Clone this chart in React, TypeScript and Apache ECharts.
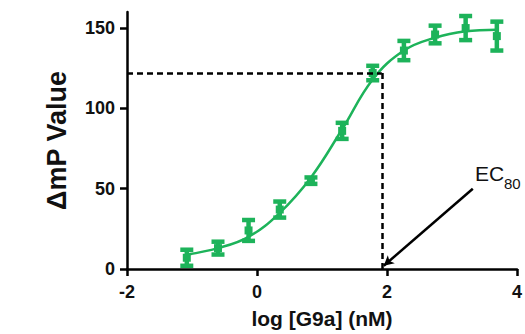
import React, { useEffect, useRef } from "react";
import * as echarts from "echarts";

// log [G9a] (nM)
const logConc = [-1.08, -0.6, -0.13, 0.35, 0.83, 1.31, 1.78, 2.26, 2.74, 3.21, 3.69];
// mean ΔmP values
const meanMP = [7, 13, 24, 37, 55, 86, 122, 136, 146, 150, 145];
// error (± SD)
const errMP = [5, 4, 6.5, 5, 2, 5, 4.5, 6, 5.5, 7.5, 9];
// fitted curve
const fitX = [-1.08, -0.6, -0.13, 0.35, 0.83, 1.31, 1.78, 2.26, 2.74, 3.21, 3.69];
const fitY = [9, 13, 20, 35, 57, 87, 118, 136, 144, 148, 149];
// EC80 annotation
const ec80X = 1.92;
const ec80Y = 122;
const arrowFrom = [3.32, 50];
const arrowTo = [1.95, 2];
const yTicks = [0, 50, 100, 150];
const xTicks = [-2, 0, 2, 4];

const GREEN = "#1db35a";
const FONT = "Liberation Sans, Arial, sans-serif";

export default function App() {
  const ref = useRef<HTMLDivElement>(null);
  useEffect(() => {
    if (!ref.current) return;
    const chart = echarts.init(ref.current, null, { renderer: "svg" });
    const errData = logConc.map((x, i) => [x, meanMP[i], meanMP[i] - errMP[i], meanMP[i] + errMP[i]]);
    chart.setOption({
      animation: false,
      backgroundColor: "#ffffff",
      grid: { left: 127, right: 7, top: 12, bottom: 61, containLabel: false },
      xAxis: {
        type: "value",
        min: -2,
        max: 4,
        interval: 2,
        name: "log [G9a] (nM)",
        nameLocation: "middle",
        nameGap: 39,
        nameTextStyle: { fontFamily: FONT, fontWeight: "bold", fontSize: 21, color: "#111" },
        axisLine: { show: true, onZero: false, lineStyle: { color: "#000", width: 2.5 } },
        axisTick: { show: true, length: 7, lineStyle: { color: "#000", width: 2.5 }, customValues: xTicks },
        axisLabel: { fontFamily: FONT, fontWeight: "bold", fontSize: 18, color: "#111", margin: 14, customValues: xTicks },
        splitLine: { show: false },
      },
      yAxis: {
        type: "value",
        min: 0,
        max: 160,
        name: "ΔmP Value",
        nameLocation: "middle",
        nameGap: 57,
        nameRotate: 90,
        nameTextStyle: { fontFamily: FONT, fontWeight: "bold", fontSize: 27, color: "#111" },
        axisLine: { show: true, onZero: false, lineStyle: { color: "#000", width: 2.5 } },
        axisTick: { show: true, length: 7, lineStyle: { color: "#000", width: 2.5 }, customValues: yTicks },
        axisLabel: { fontFamily: FONT, fontWeight: "bold", fontSize: 18, color: "#111", margin: 12, customValues: yTicks },
        splitLine: { show: false },
      },
      graphic: [
        {
          type: "text",
          left: 475,
          top: 163,
          style: { text: "EC", fontFamily: FONT, fontSize: 21, fill: "#111" },
        },
        {
          type: "text",
          left: 504,
          top: 176,
          style: { text: "80", fontFamily: FONT, fontSize: 15, fill: "#111" },
        },
      ],
      series: [
        {
          type: "line",
          data: fitX.map((x, i) => [x, fitY[i]]),
          smooth: 0.4,
          showSymbol: false,
          lineStyle: { color: GREEN, width: 2.5 },
          z: 2,
          markLine: {
            silent: true,
            symbol: "none",
            label: { show: false },
            lineStyle: { color: "#000", width: 2.5, type: [6, 4] },
            data: [
              [{ coord: [-2, ec80Y] }, { coord: [ec80X, ec80Y] }],
              [{ coord: [ec80X, ec80Y] }, { coord: [ec80X, 0] }],
            ],
          },
        },
        {
          type: "custom",
          data: errData,
          encode: { x: 0, y: 1 },
          z: 3,
          renderItem: (params: any, api: any) => {
            const x = api.value(0);
            const lo = api.coord([x, api.value(2)]);
            const hi = api.coord([x, api.value(3)]);
            const mid = api.coord([x, api.value(1)]);
            const cap = 6.5;
            const st = { stroke: GREEN, lineWidth: 4.5 };
            return {
              type: "group",
              children: [
                { type: "line", shape: { x1: lo[0], y1: lo[1], x2: hi[0], y2: hi[1] }, style: st },
                { type: "line", shape: { x1: lo[0] - cap, y1: lo[1], x2: lo[0] + cap, y2: lo[1] }, style: st },
                { type: "line", shape: { x1: hi[0] - cap, y1: hi[1], x2: hi[0] + cap, y2: hi[1] }, style: st },
                { type: "rect", shape: { x: mid[0] - 4, y: mid[1] - 4, width: 8, height: 8 }, style: { fill: GREEN } },
              ],
            };
          },
          markLine: {
            silent: true,
            symbol: ["none", "arrow"],
            symbolSize: [8, 10],
            label: { show: false },
            lineStyle: { color: "#000", width: 2.5, type: "solid" },
            data: [[{ coord: arrowFrom }, { coord: arrowTo }]],
          },
        },
      ],
    });
    return () => chart.dispose();
  }, []);
  return (
    <div
      ref={ref}
      style={{ position: "fixed", left: 0, top: 0, width: 525, height: 334, background: "#fff" }}
    />
  );
}
